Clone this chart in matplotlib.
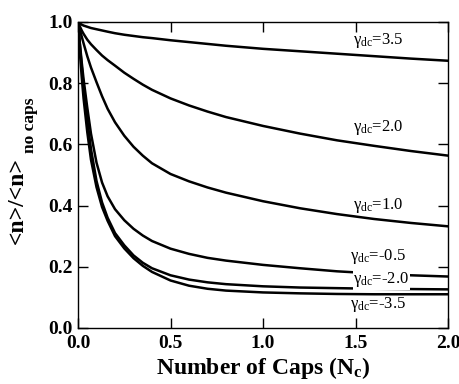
import matplotlib
matplotlib.use("Agg")
import matplotlib.pyplot as plt

plt.rcParams['font.family'] = ['Liberation Serif', 'DejaVu Serif']
plt.rcParams['mathtext.default'] = 'regular'

# Number of caps (x) and normalized <n> for each gamma_dc
caps = [0, 0.01, 0.02, 0.03, 0.05, 0.07, 0.1, 0.13, 0.16, 0.2, 0.25, 0.3,
        0.35, 0.4, 0.5, 0.6, 0.7, 0.8, 1.0, 1.2, 1.4, 1.6, 1.8, 2.0]

n_g35 = [1.0, 0.995, 0.991, 0.988, 0.984, 0.98, 0.976, 0.972, 0.968, 0.963,
         0.958, 0.954, 0.95, 0.947, 0.94, 0.934, 0.928, 0.922, 0.912, 0.904,
         0.896, 0.888, 0.88, 0.873]
n_g20 = [1.0, 0.985, 0.972, 0.961, 0.942, 0.927, 0.908, 0.89, 0.875, 0.857,
         0.834, 0.814, 0.795, 0.778, 0.75, 0.727, 0.707, 0.689, 0.66, 0.635,
         0.613, 0.595, 0.578, 0.563]
n_g10 = [1.0, 0.975, 0.952, 0.93, 0.888, 0.851, 0.803, 0.757, 0.716, 0.672,
         0.628, 0.592, 0.563, 0.538, 0.503, 0.479, 0.459, 0.442, 0.414, 0.391,
         0.372, 0.356, 0.343, 0.332]
n_gm05 = [1.0, 0.93, 0.868, 0.813, 0.72, 0.635, 0.54, 0.475, 0.43, 0.388,
          0.352, 0.324, 0.302, 0.284, 0.259, 0.242, 0.229, 0.22, 0.206, 0.195,
          0.185, 0.178, 0.172, 0.168]
n_gm20 = [1.0, 0.925, 0.855, 0.792, 0.68, 0.585, 0.48, 0.41, 0.36, 0.31,
          0.27, 0.237, 0.213, 0.195, 0.172, 0.158, 0.149, 0.143, 0.136, 0.132,
          0.13, 0.128, 0.127, 0.126]
n_gm35 = [1.0, 0.9, 0.82, 0.75, 0.64, 0.55, 0.46, 0.395, 0.35, 0.3,
          0.26, 0.228, 0.203, 0.183, 0.155, 0.138, 0.128, 0.122, 0.116, 0.113,
          0.111, 0.11, 0.11, 0.11]

series = [n_g35, n_g20, n_g10, n_gm05, n_gm20, n_gm35]
labels = ["3.5", "2.0", "1.0", "-0.5", "-2.0", "-3.5"]
label_x = [1.62, 1.62, 1.62, 1.62, 1.64, 1.62]
label_y = [0.94, 0.654, 0.40, 0.233, 0.157, 0.075]

fig = plt.figure(figsize=(4.6, 3.84), dpi=100)
ax = fig.add_axes([0.1696, 0.146, 0.8044, 0.797])

for vals in series:
    ax.plot(caps, vals, color='black', lw=1.8, solid_capstyle='round')

for lab, lx, ly in zip(labels, label_x, label_y):
    bbox = None
    if lab == "-2.0":
        bbox = dict(facecolor='white', edgecolor='none', pad=0.5)
    ax.text(lx, ly, r'$\gamma_{dc}$=' + lab, fontsize=12, ha='center', va='center',
            bbox=bbox)

ax.set_xlim(0, 2.0)
ax.set_ylim(0, 1.0)
ax.set_xticks([0, 0.5, 1.0, 1.5, 2.0])
ax.set_yticks([0, 0.2, 0.4, 0.6, 0.8, 1.0])
ax.set_xticklabels(['0.0', '0.5', '1.0', '1.5', '2.0'])
ax.set_yticklabels(['0.0', '0.2', '0.4', '0.6', '0.8', '1.0'])
ax.tick_params(direction='in', length=7, width=1, top=True, right=True, labelsize=14)
ax.tick_params(axis='x', pad=5)
ax.tick_params(axis='y', pad=4)
for lab in ax.get_xticklabels() + ax.get_yticklabels():
    lab.set_fontweight('bold')
for sp in ax.spines.values():
    sp.set_linewidth(1.0)

ax.set_xlabel(r'Number of Caps (N$_c$)', fontsize=17, fontweight='bold', labelpad=2)
fig.text(0.037, 0.479, '<n>/<n>', rotation=90, fontsize=17, fontweight='bold',
         ha='center', va='center')
fig.text(0.066, 0.674, 'no caps', rotation=90, fontsize=12.5, fontweight='bold',
         ha='center', va='center')

fig.savefig('out.png', dpi=100)
